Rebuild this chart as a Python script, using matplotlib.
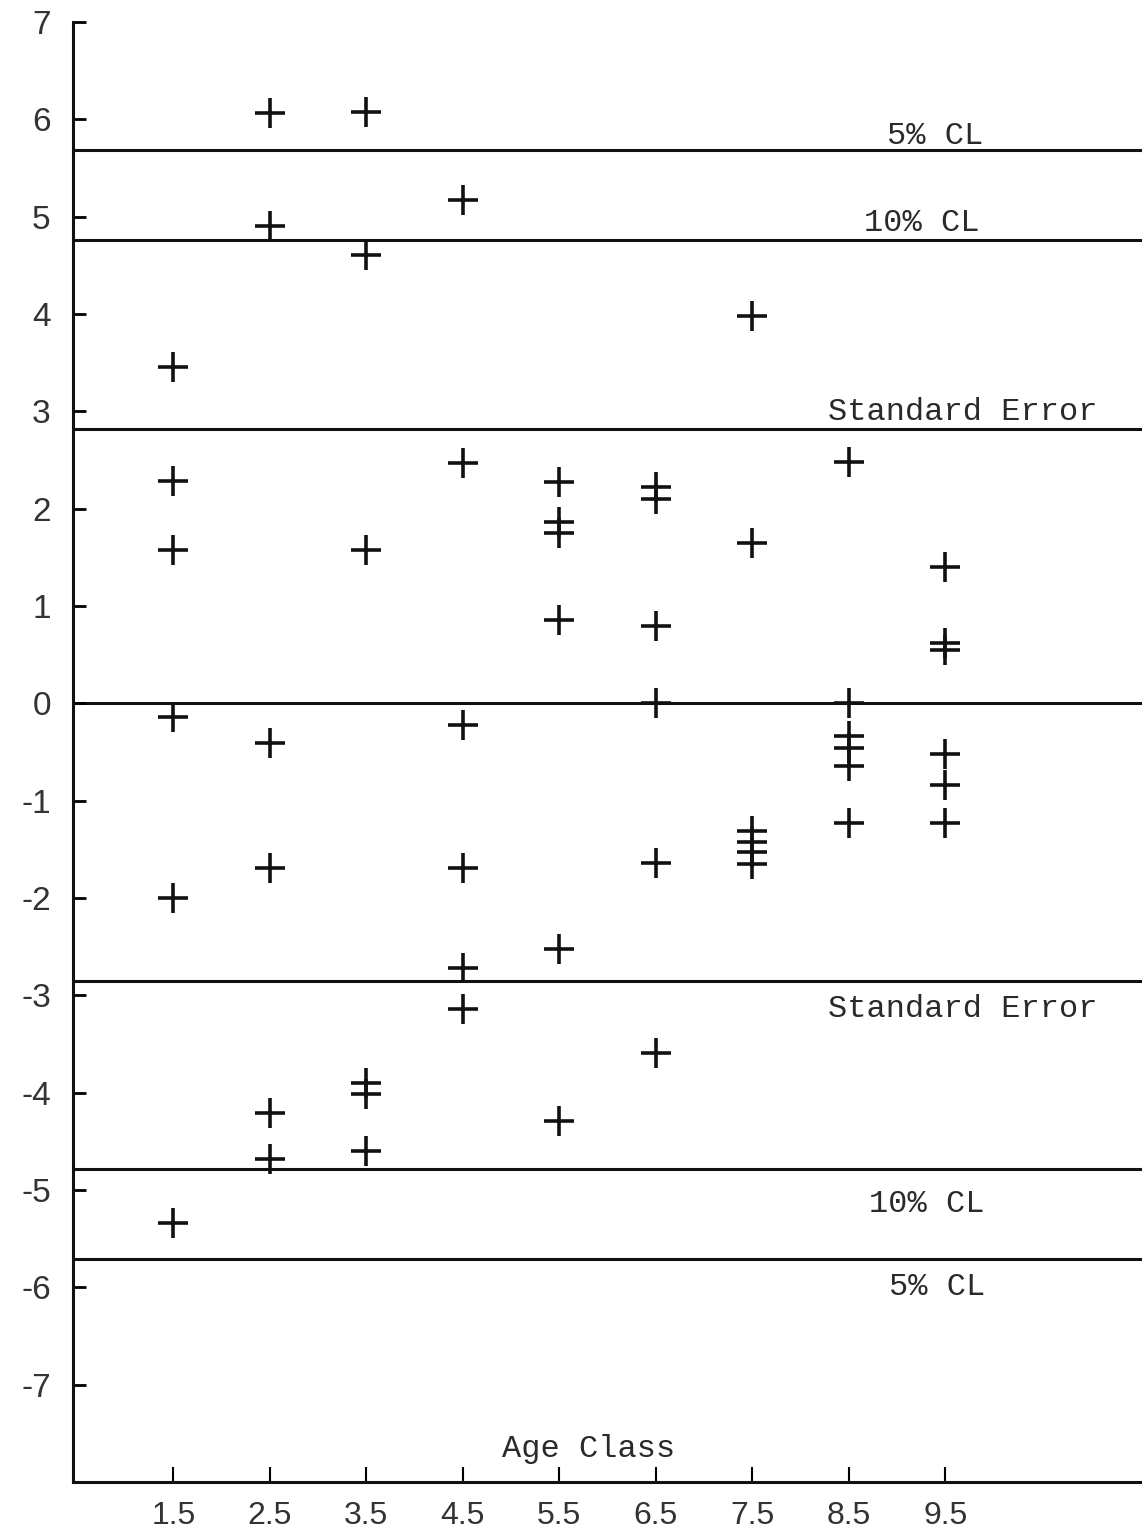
import matplotlib
matplotlib.use('Agg')
import matplotlib.pyplot as plt

plt.rcParams['axes.unicode_minus'] = False

# deviation values, per age class
ages = [1.5, 2.5, 3.5, 4.5, 5.5, 6.5, 7.5, 8.5, 9.5]
devs = [
    [3.46, 2.28, 1.58, -0.14, -2.0, -5.34],
    [6.06, 4.90, -0.41, -1.69, -4.21, -4.68],
    [6.08, 4.61, 1.58, -3.90, -4.01, -4.60],
    [5.17, 2.47, -0.22, -1.69, -2.72, -3.14],
    [2.27, 1.86, 1.75, 0.86, -2.52, -4.29],
    [2.22, 2.10, 0.79, 0.0, -1.64, -3.59],
    [3.98, 1.65, -1.31, -1.42, -1.53, -1.65],
    [2.48, 0.0, -0.34, -0.46, -0.64, -1.23],
    [1.40, 0.62, 0.55, -0.52, -0.84, -1.23],
]

# reference levels and their labels
lvl_vals = [5.69, 4.76, 2.82, 0.0, -2.85, -4.78, -5.71]
lbl_txt = ['5% CL', '10% CL', 'Standard Error', 'Standard Error', '10% CL', '5% CL']
lbl_y = [5.83, 4.94, 2.99, -3.14, -5.14, -6.0]
lbl_x = [9.40, 9.26, 9.68, 9.68, 9.31, 9.42]

yticks = list(range(-7, 8))

fig = plt.figure(figsize=(11.42, 15.3), dpi=100)
ax = fig.add_axes([73 / 1142, 48 / 1530, 1 - 73 / 1142, 1460 / 1530])

for v in lvl_vals:
    ax.axhline(v, color='#111111', lw=2.2, zorder=1)

for a, ds in zip(ages, devs):
    ax.plot([a] * len(ds), ds, ls='none', marker='+', ms=22, mew=2.6,
            color='#111111', zorder=3)

mono = 'Liberation Mono'
for t, x, y in zip(lbl_txt, lbl_x, lbl_y):
    ax.text(x, y, t, family=mono, fontsize=23, ha='center', va='center',
            color='#2a2a2a')
ax.text(5.8, -7.66, 'Age Class', family=mono, fontsize=23, ha='center',
        va='center', color='#2a2a2a')

ax.set_xlim(0.46, 11.54)
ax.set_ylim(-8.0, 7.0)
ax.set_xticks(ages)
ax.set_xticklabels([str(a) for a in ages], family='Liberation Sans',
                   fontsize=23, color='#333333')
ax.set_yticks(yticks)
ax.set_yticklabels([str(v) for v in yticks], family='Liberation Sans',
                   fontsize=24, color='#333333')
ax.tick_params(axis='y', direction='in', length=9, width=2, pad=16)
ax.tick_params(axis='x', direction='in', length=11, width=1.5, pad=14)
for s in ['top', 'right']:
    ax.spines[s].set_visible(False)
for s in ['left', 'bottom']:
    ax.spines[s].set_linewidth(2.2)
    ax.spines[s].set_color('#111111')

fig.savefig('out.png', dpi=100)
